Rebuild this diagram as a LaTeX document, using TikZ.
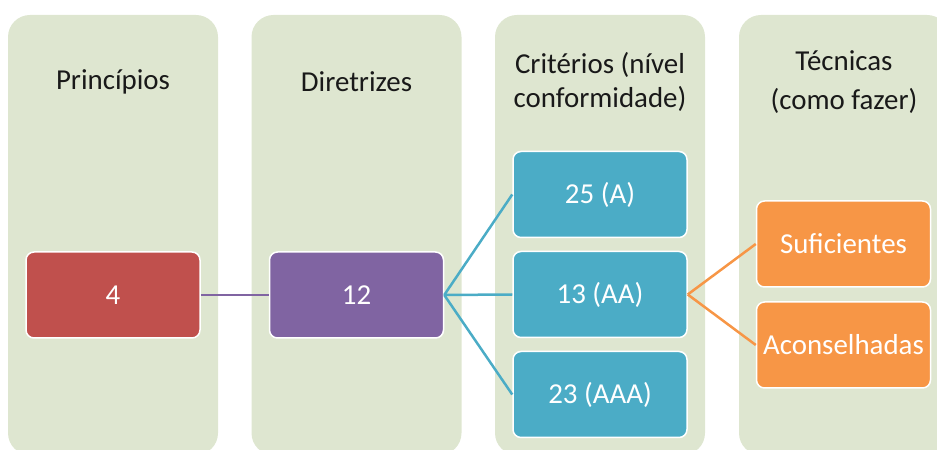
\documentclass[tikz,border=0pt]{standalone}
\usepackage{fontspec}
\setmainfont{Carlito}
\usepackage{tikz}
\usetikzlibrary{arrows,shapes}

\definecolor{colbg}{HTML}{DEE6D0}
\definecolor{redbox}{HTML}{C0504D}
\definecolor{purplebox}{HTML}{8064A2}
\definecolor{bluebox}{HTML}{4BACC6}
\definecolor{orangebox}{HTML}{F79646}

\begin{document}
\begin{tikzpicture}[line join=bevel,
  column/.style={fill=colbg,rounded corners=22bp,minimum width=210bp,minimum height=440bp,inner sep=0pt},
  head/.style={align=center,text=black!90,font=\fontsize{29}{34}\selectfont},
  item/.style={draw=white,line width=1.5bp,rounded corners=8bp,minimum width=174bp,minimum height=86bp,inner sep=0pt,text=white,font=\fontsize{29}{34}\selectfont},
  link/.style={line width=2.5bp},
]
\useasboundingbox (0bp,0bp) rectangle (937bp,450bp);
\clip (0bp,0bp) rectangle (937bp,450bp);
%%
\node (col1) at (113.0bp,215.0bp) [column] {};
  \node (col2) at (356.5bp,215.0bp) [column] {};
  \node (col3) at (600.0bp,215.0bp) [column] {};
  \node (col4) at (844.0bp,215.0bp) [column] {};
%
\node (hp) at (113.0bp,368.0bp) [head] {Princípios};
  \node (hd) at (356.5bp,368.0bp) [head] {Diretrizes};
  \node (hc) at (600.0bp,368.0bp) [head] {Critérios (nível\\conformidade)};
  \node (ht) at (844.0bp,368.0bp) [head,font=\fontsize{29}{40}\selectfont] {Técnicas\\(como fazer)};
%
\node (n4) at (113.0bp,155.0bp) [item,fill=redbox] {4};
  \node (n12) at (356.5bp,155.0bp) [item,fill=purplebox] {12};
  \node (cA) at (600.0bp,255.5bp) [item,fill=bluebox] {25 (A)};
  \node (cAA) at (600.0bp,155.5bp) [item,fill=bluebox] {13 (AA)};
  \node (cAAA) at (600.0bp,55.5bp) [item,fill=bluebox] {23 (AAA)};
  \node (tsuf) at (843.5bp,206.0bp) [item,fill=orangebox] {Suficientes};
  \node (tacon) at (843.5bp,105.0bp) [item,fill=orangebox] {Aconselhadas};
%
\draw [link,purplebox] (n4.east) -- (n12.west);
  \draw [link,bluebox] (n12.east) -- (cA.west);
  \draw [link,bluebox] (n12.east) -- (cAA.west);
  \draw [link,bluebox] (n12.east) -- (cAAA.west);
  \draw [link,orangebox] (cAA.east) -- (tsuf.west);
  \draw [link,orangebox] (cAA.east) -- (tacon.west);
%
\end{tikzpicture}
\end{document}
